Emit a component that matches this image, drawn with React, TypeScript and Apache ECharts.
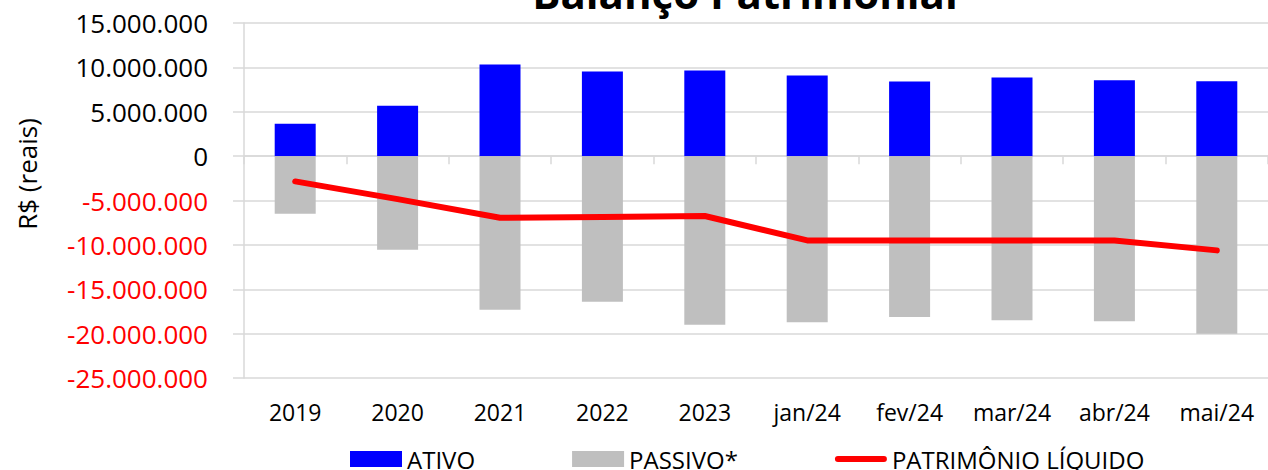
import React, { useEffect, useRef } from "react";
import * as echarts from "echarts";

const categories = ["2019", "2020", "2021", "2022", "2023", "jan/24", "fev/24", "mar/24", "abr/24", "mai/24"];
const ativo = [3650000, 5680000, 10330000, 9540000, 9650000, 9090000, 8410000, 8860000, 8560000, 8450000];
const passivo = [-6490000, -10540000, -17300000, -16400000, -18990000, -18730000, -18130000, -18500000, -18600000, -20000000];
const patrimonio = [-2850000, -4850000, -6950000, -6850000, -6750000, -9500000, -9500000, -9500000, -9500000, -10620000];
const seriesNames = ["ATIVO", "PASSIVO*", "PATRIMÔNIO LÍQUIDO"];
const titleText = "Balanço Patrimonial";
const yAxisName = "R$ (reais)";

const FONT = "Open Sans";
const GRID_COLOR = "#d9d9d9";

function fmt(v: number): string {
  const neg = v < 0;
  const s = Math.abs(Math.round(v)).toString().replace(/\B(?=(\d{3})+(?!\d))/g, ".");
  return (neg ? "-" : "") + s;
}

export default function App() {
  const ref = useRef<HTMLDivElement>(null);
  useEffect(() => {
    if (!ref.current) return;
    const chart = echarts.init(ref.current, undefined, { renderer: "svg" });
    chart.setOption({
      animation: false,
      backgroundColor: "#ffffff",
      textStyle: { fontFamily: FONT },
      graphic: [
        {
          type: "text",
          x: 745,
          y: -8,
          style: {
            text: titleText,
            font: `bold 42px "${FONT}"`,
            fill: "#000",
            align: "center",
            verticalAlign: "middle",
          },
        },
        {
          type: "text",
          x: 27,
          y: 174,
          rotation: Math.PI / 2,
          style: {
            text: yAxisName,
            font: `26px "${FONT}"`,
            fill: "#000",
            align: "center",
            verticalAlign: "middle",
          },
        },
      ],
      grid: { left: 244, right: -8, top: 23, bottom: 92, containLabel: false },
      legend: {
        left: 350,
        top: 446,
        padding: 0,
        itemWidth: 52,
        itemHeight: 16,
        itemGap: 97,
        textStyle: { fontSize: 24, lineHeight: 26, color: "#000", fontFamily: FONT },
        data: [
          { name: seriesNames[0], icon: "rect" },
          { name: seriesNames[1], icon: "rect" },
          {
            name: seriesNames[2],
            icon: "path://M0,0 M0,16 M3,5 L49,5 A3,3 0 0 1 49,11 L3,11 A3,3 0 0 1 3,5 Z",
            itemStyle: { color: "#ff0000" },
          },
        ],
      },
      xAxis: [
        {
          type: "category",
          data: categories,
          position: "bottom",
          axisLine: { show: false, onZero: false },
          axisTick: { show: false },
          splitLine: { show: false },
          axisLabel: { fontSize: 23, color: "#000", margin: 22, lineHeight: 24, fontFamily: FONT },
        },
        {
          type: "category",
          data: categories,
          position: "top",
          axisLine: { show: true, onZero: true, lineStyle: { color: GRID_COLOR, width: 1.5 } },
          axisTick: { show: true, inside: true, length: 8, lineStyle: { color: GRID_COLOR, width: 1.5 } },
          axisLabel: { show: false },
          splitLine: { show: false },
        },
      ],
      yAxis: {
        type: "value",
        min: -25000000,
        max: 15000000,
        interval: 5000000,
        axisLine: { show: true, lineStyle: { color: GRID_COLOR, width: 1.5 } },
        axisTick: { show: true, length: 11, lineStyle: { color: GRID_COLOR, width: 1.5 } },
        splitLine: { show: true, lineStyle: { color: GRID_COLOR, width: 1.5 } },
        axisLabel: {
          fontSize: 26,
          margin: 36,
          fontFamily: FONT,
          formatter: (v: number) => fmt(v),
          color: (v: any) => (Number(v) < 0 ? "#ff0000" : "#000000"),
        },
      },
      series: [
        {
          name: seriesNames[0],
          type: "bar",
          data: ativo,
          barWidth: 41,
          barGap: "-100%",
          itemStyle: { color: "#0000ff" },
        },
        {
          name: seriesNames[1],
          type: "bar",
          data: passivo,
          barWidth: 41,
          barGap: "-100%",
          itemStyle: { color: "#bfbfbf" },
        },
        {
          name: seriesNames[2],
          type: "line",
          data: patrimonio,
          symbol: "none",
          z: 5,
          lineStyle: { color: "#ff0000", width: 6, cap: "round", join: "round" },
          itemStyle: { color: "#ff0000" },
        },
      ],
    });
    return () => chart.dispose();
  }, []);
  return (
    <div
      ref={ref}
      style={{ position: "fixed", left: 0, top: 0, width: 1268, height: 470, background: "#fff" }}
    />
  );
}
